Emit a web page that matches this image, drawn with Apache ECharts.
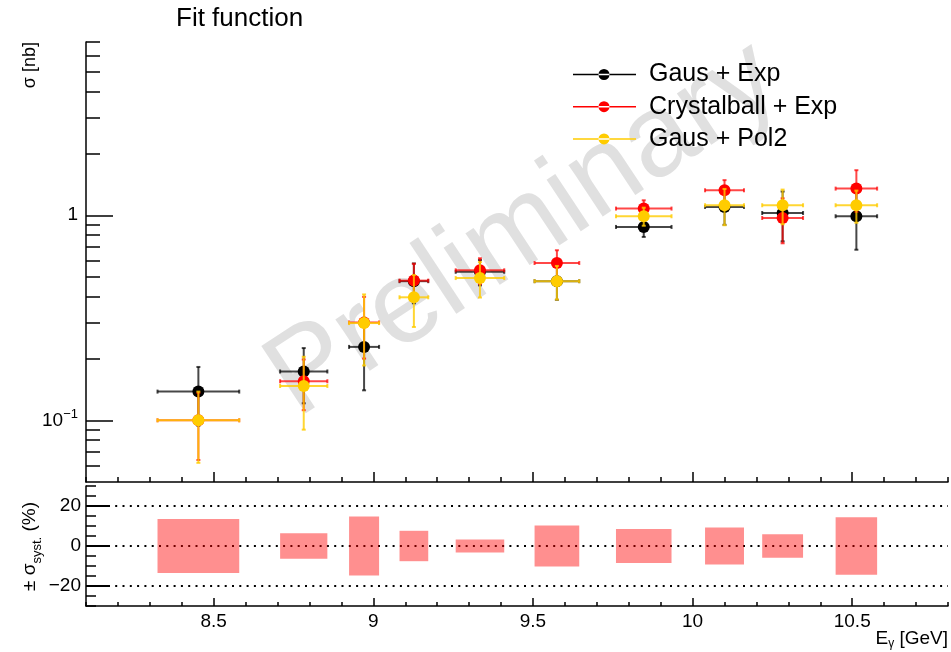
<!DOCTYPE html>
<html>
<head>
<meta charset="utf-8">
<script src="https://cdn.jsdelivr.net/npm/echarts@6/dist/echarts.min.js"></script>
<style>
  html, body { margin: 0; padding: 0; background: #fff; }
  #chart { width: 951px; height: 652px; }
</style>
</head>
<body>
<div id="chart"></div>
<script>
// Photon-energy bins (GeV): centre and half width
const binCenter    = [8.452, 8.782, 8.971, 9.127, 9.334, 9.575, 9.847, 10.100, 10.282, 10.513];
const binHalfWidth = [0.128, 0.074, 0.047, 0.045, 0.076, 0.070, 0.087, 0.061, 0.064, 0.065];

// Cross section sigma [nb] and its uncertainty for each signal fit
const gausExpSigma  = [0.138, 0.173, 0.228, 0.477, 0.530, 0.477, 0.877, 1.098, 1.026, 0.989];
const gausExpErr    = [0.044, 0.052, 0.088, 0.105, 0.075, 0.090, 0.093, 0.200, 0.280, 0.310];
const cbExpSigma    = [0.100, 0.155, 0.300, 0.480, 0.539, 0.585, 1.078, 1.324, 0.970, 1.349];
const cbExpErr      = [0.036, 0.043, 0.100, 0.100, 0.078, 0.090, 0.105, 0.160, 0.240, 0.310];
const gausPol2Sigma = [0.100, 0.147, 0.298, 0.398, 0.494, 0.477, 0.989, 1.119, 1.119, 1.119];
const gausPol2Err   = [0.038, 0.057, 0.113, 0.113, 0.097, 0.089, 0.100, 0.225, 0.215, 0.200];

// Relative systematic uncertainty from the choice of fit function (%)
const systPercent = [13.5, 6.4, 14.7, 7.6, 3.2, 10.3, 8.5, 9.3, 5.9, 14.4];

const seriesNames = ['Gaus + Exp', 'Crystalball + Exp', 'Gaus + Pol2'];

// Axis ticks and tick labels
const xMajorTicks = [8.5, 9, 9.5, 10, 10.5];
const xTickLabels = ['8.5', '9', '9.5', '10', '10.5'];
const sigmaMajorTicks = [0.1, 1];
const sigmaTickLabels = ['{m|10}{e|\u22121}', '{m|1}'];
const sigmaMinorTicks = [0.06, 0.07, 0.08, 0.09, 0.2, 0.3, 0.4, 0.5, 0.6, 0.7, 0.8, 0.9, 2, 3, 4, 5, 6, 7];
const systMajorTicks = [-20, 0, 20];
const systTickLabels = ['\u221220', '0', '20'];

const FONT = '"Liberation Sans", Arial, Helvetica, sans-serif';
const AXIS_COLOR = '#000';

function pointData(sig, err) {
  return binCenter.map((x, i) => [x, sig[i], binHalfWidth[i], err[i]]);
}

function labelFor(ticks, labels) {
  return function (v) {
    let best = 0;
    for (let i = 1; i < ticks.length; i++) {
      if (Math.abs(ticks[i] - v) < Math.abs(ticks[best] - v)) best = i;
    }
    return labels[best];
  };
}

// Points with horizontal (bin width) and vertical (statistical) error bars
function errorBarItem(color, lineAlpha) {
  return function (params, api) {
    const x = api.value(0), y = api.value(1), xh = api.value(2), ey = api.value(3);
    const c = api.coord([x, y]);
    const l = api.coord([x - xh, y]);
    const r = api.coord([x + xh, y]);
    const t = api.coord([x, y + ey]);
    const b = api.coord([x, y - ey]);
    const ls = { stroke: color, lineWidth: 2, opacity: lineAlpha };
    const cap = 2;
    return {
      type: 'group',
      children: [
        { type: 'line', shape: { x1: l[0], y1: l[1], x2: r[0], y2: r[1] }, style: ls },
        { type: 'line', shape: { x1: t[0], y1: t[1], x2: b[0], y2: b[1] }, style: ls },
        { type: 'line', shape: { x1: l[0], y1: l[1] - cap, x2: l[0], y2: l[1] + cap }, style: ls },
        { type: 'line', shape: { x1: r[0], y1: r[1] - cap, x2: r[0], y2: r[1] + cap }, style: ls },
        { type: 'line', shape: { x1: t[0] - cap, y1: t[1], x2: t[0] + cap, y2: t[1] }, style: ls },
        { type: 'line', shape: { x1: b[0] - cap, y1: b[1], x2: b[0] + cap, y2: b[1] }, style: ls },
        { type: 'circle', shape: { cx: c[0], cy: c[1], r: 6 }, style: { fill: color } }
      ]
    };
  };
}

// Systematic band: box spanning the bin, from -syst to +syst
function systBoxItem(params, api) {
  const x = api.value(0), s = api.value(1), xh = api.value(2);
  const p0 = api.coord([x - xh, s]);
  const p1 = api.coord([x + xh, -s]);
  return {
    type: 'rect',
    shape: { x: p0[0], y: p0[1], width: p1[0] - p0[0], height: p1[1] - p0[1] },
    style: { fill: 'rgba(255,0,0,0.44)' }
  };
}

const legendIcon = 'path://M0,4.75 H63 V6.25 H0 Z M25.5,5.5 A5.5,5.5 0 1,0 36.5,5.5 A5.5,5.5 0 1,0 25.5,5.5 Z';

const hiddenLabel = { show: false };
const noSplit = { show: false };

const chart = echarts.init(document.getElementById('chart'), null, { renderer: 'canvas' });

chart.setOption({
  animation: false,
  backgroundColor: '#fff',
  textStyle: { fontFamily: FONT },
  grid: [
    { left: 86, right: 3, top: 42, height: 440, containLabel: false },
    { left: 86, right: 3, top: 486, height: 120, containLabel: false }
  ],
  legend: {
    orient: 'vertical',
    left: 573,
    top: 62,
    padding: 0,
    itemWidth: 63,
    itemHeight: 11,
    itemGap: 7.2,
    icon: legendIcon,
    selectedMode: false,
    data: seriesNames,
    textStyle: { fontFamily: FONT, fontSize: 25, color: '#000', lineHeight: 25, padding: [0, 0, 0, 8] }
  },
  xAxis: [
    { // upper panel: minor ticks every 0.1 GeV
      type: 'value', gridIndex: 0, position: 'bottom', min: 8.1, max: 10.8, interval: 0.1,
      axisLine: { show: true, onZero: false, lineStyle: { color: AXIS_COLOR, width: 1.5 } },
      axisTick: { show: true, inside: true, length: 5, lineStyle: { color: AXIS_COLOR, width: 1.5 } },
      axisLabel: hiddenLabel, splitLine: noSplit
    },
    { // upper panel: major ticks
      type: 'value', gridIndex: 0, position: 'bottom', min: 8.1, max: 10.8,
      axisLine: { show: false, onZero: false },
      axisTick: { show: true, inside: true, length: 10, customValues: xMajorTicks, lineStyle: { color: AXIS_COLOR, width: 1.5 } },
      axisLabel: hiddenLabel, splitLine: noSplit
    },
    { // lower panel: minor ticks
      type: 'value', gridIndex: 1, position: 'bottom', min: 8.1, max: 10.8, interval: 0.1,
      axisLine: { show: true, onZero: false, lineStyle: { color: AXIS_COLOR, width: 1.5 } },
      axisTick: { show: true, inside: true, length: 4, lineStyle: { color: AXIS_COLOR, width: 1.5 } },
      axisLabel: hiddenLabel, splitLine: noSplit
    },
    { // lower panel: major ticks and energy labels
      type: 'value', gridIndex: 1, position: 'bottom', min: 8.1, max: 10.8,
      axisLine: { show: false, onZero: false },
      axisTick: { show: true, inside: true, length: 8, customValues: xMajorTicks, lineStyle: { color: AXIS_COLOR, width: 1.5 } },
      axisLabel: {
        show: true, customValues: xMajorTicks, margin: 6, color: '#000', fontSize: 19, fontFamily: FONT,
        formatter: labelFor(xMajorTicks, xTickLabels)
      },
      splitLine: noSplit
    }
  ],
  yAxis: [
    { // sigma, minor log ticks
      type: 'log', logBase: 10, gridIndex: 0, position: 'left', min: 0.05, max: 7,
      axisLine: { show: true, onZero: false, lineStyle: { color: AXIS_COLOR, width: 1.5 } },
      axisTick: { show: true, inside: true, length: 14, customValues: sigmaMinorTicks, lineStyle: { color: AXIS_COLOR, width: 1.5 } },
      axisLabel: hiddenLabel, splitLine: noSplit
    },
    { // sigma, decade ticks and labels
      type: 'log', logBase: 10, gridIndex: 0, position: 'left', min: 0.05, max: 7,
      axisLine: { show: false, onZero: false },
      axisTick: { show: true, inside: true, length: 27, customValues: sigmaMajorTicks, lineStyle: { color: AXIS_COLOR, width: 1.5 } },
      axisLabel: {
        show: true, customValues: sigmaMajorTicks, margin: 8, color: '#000',
        formatter: labelFor(sigmaMajorTicks, sigmaTickLabels),
        rich: {
          m: { fontSize: 19, fontFamily: FONT, color: '#000' },
          e: { fontSize: 13, fontFamily: FONT, color: '#000', padding: [0, 0, 12, 0] }
        }
      },
      splitLine: noSplit
    },
    { // systematics, minor ticks every 5 %
      type: 'value', gridIndex: 1, position: 'left', min: -30, max: 30, interval: 5,
      axisLine: { show: true, onZero: false, lineStyle: { color: AXIS_COLOR, width: 1.5 } },
      axisTick: { show: true, inside: true, length: 10, lineStyle: { color: AXIS_COLOR, width: 1.5 } },
      axisLabel: hiddenLabel, splitLine: noSplit
    },
    { // systematics, labelled ticks with dotted reference lines
      type: 'value', gridIndex: 1, position: 'left', min: -30, max: 30,
      axisLine: { show: false, onZero: false },
      axisTick: { show: true, inside: true, length: 24, customValues: systMajorTicks, lineStyle: { color: AXIS_COLOR, width: 2 } },
      axisLabel: {
        show: true, customValues: systMajorTicks, margin: 5, color: '#000', fontSize: 19, fontFamily: FONT,
        formatter: labelFor(systMajorTicks, systTickLabels)
      },
      splitLine: { show: true, lineStyle: { color: '#000', width: 2, type: [2, 5.3] } }
    }
  ],
  graphic: [
    {
      type: 'text', x: 524, y: 230, rotation: 33.5 * Math.PI / 180, z: -10, silent: true,
      style: { text: 'Preliminary', font: '117px ' + FONT, fill: '#e0e0e0', align: 'center', verticalAlign: 'middle' }
    },
    {
      type: 'text', x: 176, y: 19,
      style: { text: 'Fit function', font: '26px ' + FONT, fill: '#000', align: 'left', verticalAlign: 'middle' }
    },
    {
      type: 'text', x: 30, y: 42, rotation: Math.PI / 2,
      style: { text: '\u03c3 [nb]', font: '18px ' + FONT, fill: '#000', align: 'right', verticalAlign: 'middle' }
    },
    {
      type: 'text', x: 30, y: 591, rotation: Math.PI / 2,
      style: {
        text: '{a|\u00b1 \u03c3}{s|syst.}{a| (%)}',
        align: 'left', verticalAlign: 'middle', fill: '#000',
        rich: {
          a: { fontSize: 19, fontFamily: FONT, fill: '#000' },
          s: { fontSize: 13, fontFamily: FONT, fill: '#000', padding: [14, 0, 0, 0] }
        }
      }
    },
    {
      type: 'text', x: 948, y: 639,
      style: {
        text: '{a|E}{s|\u03b3}{a| [GeV]}',
        align: 'right', verticalAlign: 'middle', fill: '#000',
        rich: {
          a: { fontSize: 19, fontFamily: FONT, fill: '#000' },
          s: { fontSize: 12, fontFamily: FONT, fill: '#000', padding: [10, 0, 0, 0] }
        }
      }
    }
  ],
  series: [
    {
      name: seriesNames[0], type: 'custom', xAxisIndex: 0, yAxisIndex: 0, z: 3,
      itemStyle: { color: '#000000' },
      renderItem: errorBarItem('#000000', 0.72),
      encode: { x: 0, y: 1 },
      data: pointData(gausExpSigma, gausExpErr)
    },
    {
      name: seriesNames[1], type: 'custom', xAxisIndex: 0, yAxisIndex: 0, z: 4,
      itemStyle: { color: '#ff0000' },
      renderItem: errorBarItem('#ff0000', 0.72),
      encode: { x: 0, y: 1 },
      data: pointData(cbExpSigma, cbExpErr)
    },
    {
      name: seriesNames[2], type: 'custom', xAxisIndex: 0, yAxisIndex: 0, z: 5,
      itemStyle: { color: '#ffcc00' },
      renderItem: errorBarItem('#ffcc00', 0.8),
      encode: { x: 0, y: 1 },
      data: pointData(gausPol2Sigma, gausPol2Err)
    },
    {
      name: 'syst', type: 'custom', xAxisIndex: 2, yAxisIndex: 2, z: 2,
      renderItem: systBoxItem,
      encode: { x: 0, y: 1 },
      data: binCenter.map((x, i) => [x, systPercent[i], binHalfWidth[i]])
    }
  ]
});
</script>
</body>
</html>
